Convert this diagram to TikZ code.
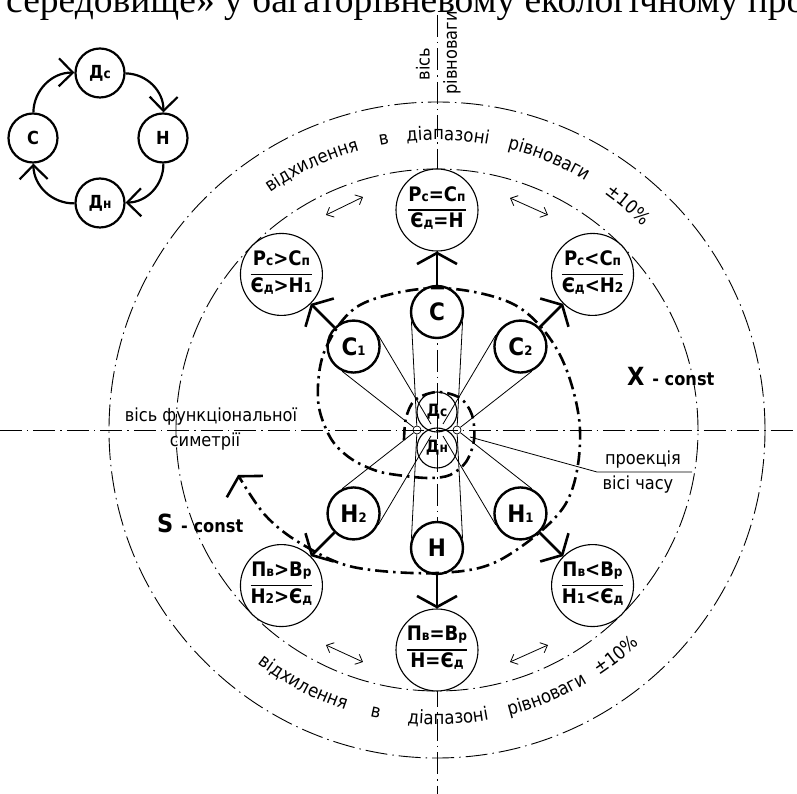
\documentclass[tikz,border=0pt]{standalone}
\usepackage{fontspec}
\setmainfont[FakeStretch=0.9]{DejaVu Sans}
\newfontfamily\hdrfont{Liberation Serif}
\usetikzlibrary{arrows.meta,decorations.text}
\pgfdeclarelayer{bg}
\pgfsetlayers{bg,main}
\newcommand\fsz[1]{\fontsize{#1}{#1}\selectfont}
\newcommand\smsub[1]{{\fsz{13.5}#1}}
\newcommand\midsub[1]{{\fsz{13}#1}}
\newcommand\fr[2]{{\setlength\arrayrulewidth{1.6pt}\begin{tabular}{@{}c@{}}#1\\[2pt]\hline\rule{0pt}{17pt}#2\end{tabular}}}
\newcommand\arcf{\fsz{18.5}}
\newcommand\topword[3]{\path[decorate,decoration={text along path,text={|\arcf|#3},text align=center}] ({#2+35}:#1) arc[start angle={#2+35}, end angle={#2-35}, radius=#1];}
\newcommand\botword[3]{\path[decorate,decoration={text along path,text={|\arcf|#3},text align=center}] ({#2-35}:#1) arc[start angle={#2-35}, end angle={#2+35}, radius=#1];}
\begin{document}
\begin{tikzpicture}[x=1pt,y=1pt,
  thindd/.style={line width=0.9pt, dash pattern=on 22pt off 5pt on 1.5pt off 5pt},
  bolddd/.style={line width=2.6pt, dash pattern=on 13pt off 5pt on 2.5pt off 5pt},
  thinl/.style={line width=0.8pt},
  statec/.style={circle, draw, fill=white, line width=1.1pt, minimum size=82pt, inner sep=0pt, font=\bfseries\fsz{20}},
  midc/.style={circle, draw, fill=white, line width=2.4pt, minimum size=52pt, inner sep=0pt, font=\bfseries\fsz{24}},
  cycc/.style={circle, draw, line width=2.2pt, minimum size=49pt, inner sep=0pt, font=\bfseries\fsz{18}},
  centc/.style={circle, draw, line width=1.1pt, minimum size=40pt, inner sep=0pt, font=\bfseries\fsz{17}},
  tinyc/.style={circle, draw, line width=0.7pt, minimum size=8pt, inner sep=0pt},
  thickarr/.style={line width=2.6pt, -{Straight Barb[length=11pt,width=40pt]}},
  cycarr/.style={line width=2.2pt, -{Straight Barb[length=14pt,width=28pt]}},
  dblarr/.style={line width=0.8pt, {Straight Barb[length=6pt,width=11pt]}-{Straight Barb[length=6pt,width=11pt]}},
  lab/.style={inner sep=0pt, font=\fsz{18}},
]
\useasboundingbox (-437,-364) rectangle (360,430);
% header (cut line of text)
\node[anchor=base west, inner sep=0pt, font=\hdrfont\fsz{37.5}] (hdr) at (-431,417) {середовище» у багаторівневому екологічному про};

% state circles
\node[statec] (sT) at (90:220) {\fr{Р\smsub{с}=С\smsub{п}}{Є\smsub{д}=Н}};
\node[statec] (sTL) at (135:220) {\fr{Р\smsub{с}>С\smsub{п}}{Є\smsub{д}>Н\smsub{1}}};
\node[statec] (sTR) at (45:220) {\fr{Р\smsub{с}<С\smsub{п}}{Є\smsub{д}<Н\smsub{2}}};
\node[statec] (sBL) at (225:220) {\fr{П\smsub{в}>В\smsub{р}}{Н\smsub{2}>Є\smsub{д}}};
\node[statec] (sB) at (270:220) {\fr{П\smsub{в}=В\smsub{р}}{Н=Є\smsub{д}}};
\node[statec] (sBR) at (315:220) {\fr{П\smsub{в}<В\smsub{р}}{Н\smsub{1}<Є\smsub{д}}};

% middle circles
\node[midc] (mC) at (90:118) {С};
\node[midc] (mC1) at (135:118) {С\midsub{1}};
\node[midc] (mC2) at (45:118) {С\midsub{2}};
\node[midc] (mH2) at (225:118) {Н\midsub{2}};
\node[midc] (mH) at (270:118) {Н};
\node[midc] (mH1) at (315:118) {Н\midsub{1}};

% centre
\node[centc] (cDs) at (0,18) {Д\smsub{с}};
\node[centc] (cDn) at (0,-18) {Д\smsub{н}};
\node[tinyc] (tL) at (-20,0) {};
\node[tinyc] (tR) at (20,0) {};
\coordinate (pUL) at (-6,6);
\coordinate (pUR) at (6,6);
\coordinate (pLL) at (-6,-6);
\coordinate (pLR) at (6,-6);

\begin{pgfonlayer}{bg}
  \draw[thindd] (0,415) -- (0,-364);
  \draw[thindd] (-437,0) -- (360,0);
  \draw[thindd] (0,0) circle[radius=328];
  \draw[thindd] (0,0) circle[radius=261];
  \draw[thinl] (mC.200) -- (tL) -- (mH.160);
  \draw[thinl] (mC.340) -- (tR) -- (mH.20);
  \draw[thinl] (mC1.25) -- (pUL);
  \draw[thinl] (mC1.245) -- (tL);
  \draw[thinl] (mC2.155) -- (pUR);
  \draw[thinl] (mC2.295) -- (tR);
  \draw[thinl] (mH2.335) -- (pLL);
  \draw[thinl] (mH2.115) -- (tL);
  \draw[thinl] (mH1.205) -- (pLR);
  \draw[thinl] (mH1.65) -- (tR);
\end{pgfonlayer}

% arc texts
\topword{290}{115.3}{відхилення}
\topword{290}{100.4}{в}
\topword{290}{87.9}{діапазоні}
\topword{290}{67.5}{рівноваги}
\topword{290}{49.7}{±10{\%}}
\botword{294.5}{242.2}{відхилення}
\botword{294.5}{257.8}{в}
\botword{294.5}{272.2}{діапазоні}
\botword{294.5}{292.5}{рівноваги}
\botword{294.5}{308.5}{±10{\%}}

% small double arrows
\coordinate (dA1) at (-111,215); \coordinate (dA2) at (-74,233);
\coordinate (dB1) at (73,232);   \coordinate (dB2) at (111,215);
\coordinate (dC1) at (-111,-215); \coordinate (dC2) at (-74,-232);
\coordinate (dD1) at (73,-232);  \coordinate (dD2) at (111,-215);
\draw[dblarr] (dA1) -- (dA2);
\draw[dblarr] (dB1) -- (dB2);
\draw[dblarr] (dC1) -- (dC2);
\draw[dblarr] (dD1) -- (dD2);

% thick arrows
\draw[thickarr] (mC) -- (sT);
\draw[thickarr] (mC1) -- (sTL);
\draw[thickarr] (mC2) -- (sTR);
\draw[thickarr] (mH2) -- (sBL);
\draw[thickarr] (mH) -- (sB);
\draw[thickarr] (mH1) -- (sBR);

% spiral
\draw[bolddd, -{Straight Barb[length=12pt,width=42pt]}] plot[smooth, tension=0.55] coordinates {
 (-33,-10) (-31,12) (-22,30) (0,38) (23,32) (35,15) (37,-10) (29,-32) (13,-45) (-7,-48) (-32,-46) (-60,-41) (-87,-28) (-107,-7) (-119,30) (-112,80) (-77,125) (0,142) (78,125) (123,75) (143,0) (128,-75) (63,-130) (0,-143) (-84,-137) (-137,-113) (-172,-85) (-199,-45)};

% leader
\coordinate (ld0) at (33,-7);
\coordinate (ld1) at (160,-42);
\coordinate (ld2) at (255,-42);
\draw[thinl] (ld0) -- (ld1) -- (ld2);
\node[lab] (lpr) at (206,-30) {проекція};
\node[lab] (lvc) at (201,-55) {вісі часу};

% labels
\node[lab, anchor=west, font=\bfseries\fsz{25}] (xc) at (190,53) {X {\fsz{18}- const}};
\node[lab, anchor=west, font=\bfseries\fsz{25}] (sc) at (-280,-93) {S {\fsz{18}- const}};
\node[lab] (fs1) at (-226,13) {вісь функціональної};
\node[lab] (fs2) at (-232,-12) {симетрії};
\node[lab, rotate=90] (vr1) at (-14,366) {вісь};
\node[lab, rotate=90] (vr2) at (15,377) {рівноваги};

% small cycle
\node[cycc] (kDs) at (-337,357) {Д\smsub{с}};
\node[cycc] (kC) at (-404,292) {С};
\node[cycc] (kH) at (-274,292) {Н};
\node[cycc] (kDn) at (-337,227) {Д\smsub{н}};
\draw[cycarr] (kC) to[bend left=45] (kDs);
\draw[cycarr] (kDs) to[bend left=45] (kH);
\draw[cycarr] (kH) to[bend left=45] (kDn);
\draw[cycarr] (kDn) to[bend left=45] (kC);
\end{tikzpicture}
\end{document}
